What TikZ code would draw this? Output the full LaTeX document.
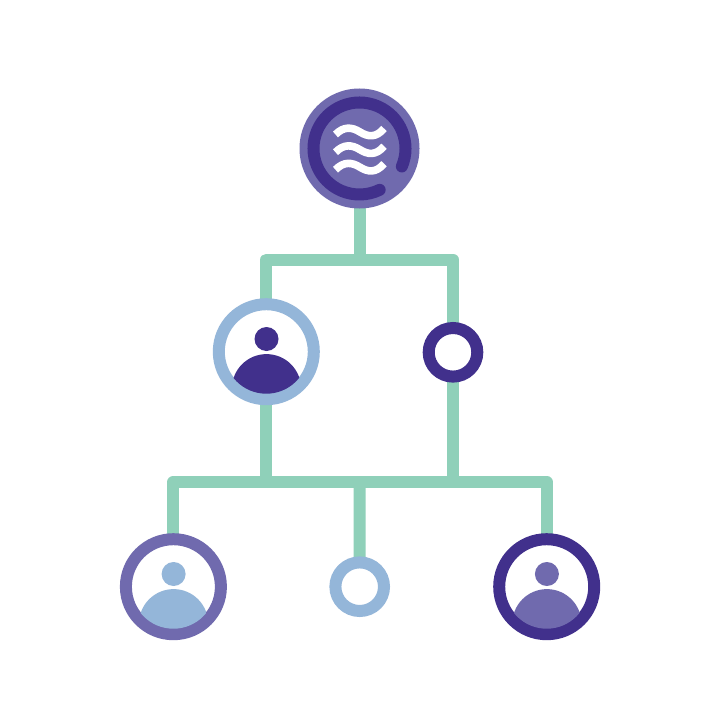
\documentclass[tikz,border=0pt]{standalone}
\usetikzlibrary{backgrounds}
\definecolor{linkgreen}{HTML}{8FD0B9}
\definecolor{midpurple}{HTML}{706AAE}
\definecolor{deeppurple}{HTML}{41308C}
\definecolor{softblue}{HTML}{94B6D9}
\tikzset{
  link/.style={draw=linkgreen,line width=12pt,line join=round,line cap=round},
  ringbig/.style={circle,draw=#1,line width=12pt,fill=white,inner sep=0pt,outer sep=0pt,minimum size=95pt},
  ringsmall/.style={circle,draw=#1,line width=12pt,fill=white,inner sep=0pt,outer sep=0pt,minimum size=48.6pt},
  hub/.style={circle,fill=midpurple,inner sep=0pt,outer sep=0pt,minimum size=120pt},
  wave/.style={draw=white,line width=7.6pt,line cap=butt}
}
\newcommand{\persona}[2]{%
  \begin{scope}[shift={(#1)}]
    \fill[#2] (0.2,-12.7) circle[radius=12];
    \clip (0,0) circle[radius=42];
    \fill[#2] (0.2,37) circle[radius=34.6];
  \end{scope}}
\begin{document}
\begin{tikzpicture}[x=1pt,y=-1pt]
\useasboundingbox (0,0) rectangle (706,706);
\node[hub] (top) at (359.5,148.5) {};
\draw[deeppurple,line width=12pt,line cap=round] (top.center) ++(23:46) arc[start angle=23,end angle=-296,radius=46];
\foreach \dy in {0,17.7,35.2}{
  \draw[wave] (335.5,134.5+\dy) .. controls (344,126+\dy) and (352,127+\dy) .. (360,132+\dy)
     .. controls (368,137+\dy) and (376,138+\dy) .. (384,128.5+\dy);
}
\node[ringbig=softblue] (lead) at (266.3,351.7) {};
\node[ringsmall=deeppurple] (openA) at (453,352.3) {};
\node[ringbig=midpurple] (left) at (173.4,586.7) {};
\node[ringsmall=softblue] (openB) at (359.7,586.7) {};
\node[ringbig=deeppurple] (right) at (546.7,586.7) {};
\coordinate (busA) at (359.5,259.5);
\coordinate (busB) at (359.5,482);
\begin{scope}[on background layer]
  \fill[white] (0,0) rectangle (706,706);
  \draw[link] (top.center) -- (busA);
  \draw[link] (lead.center) |- (busA) -| (openA.center);
  \draw[link] (lead.center) |- (busB);
  \draw[link] (openA.center) |- (busB);
  \draw[link] (left.center) |- (busB) -| (right.center);
  \draw[link] (openB.center) -- (busB);
\end{scope}
\persona{lead.center}{deeppurple}
\persona{left.center}{softblue}
\persona{right.center}{midpurple}
\end{tikzpicture}
\end{document}
